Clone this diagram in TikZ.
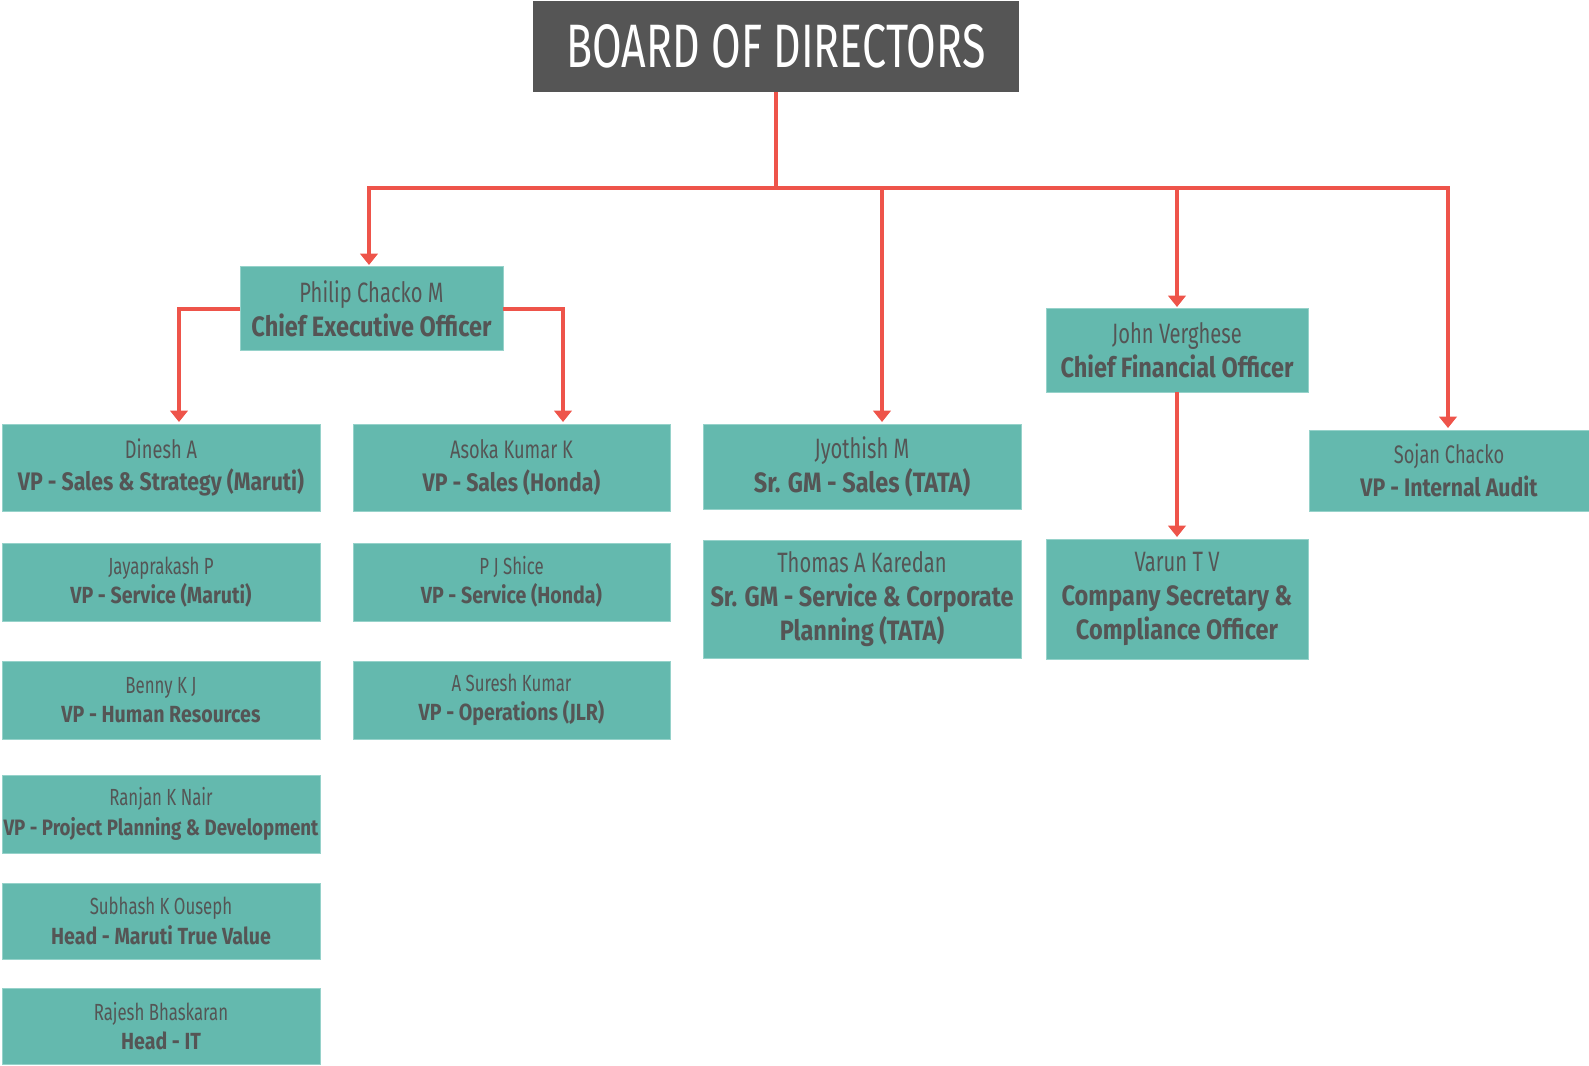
\documentclass[tikz,border=0pt]{standalone}
\usepackage{fontspec}
\setmainfont{Fira Sans}[FakeStretch=0.72]
\newfontfamily\titlefont{Fira Sans}[FakeStretch=0.84]
\newfontfamily\boardfont{Fira Sans}[FakeStretch=0.7]
\usetikzlibrary{arrows.meta}
\definecolor{teal}{RGB}{100,185,174}
\definecolor{tealedge}{RGB}{150,210,202}
\definecolor{ink}{RGB}{85,85,85}
\definecolor{boardgrey}{RGB}{85,85,85}
\definecolor{link}{RGB}{238,84,74}
% job titles are set bold and a little wider than the names
\newcommand\ttl[1]{{\titlefont\bfseries #1}}
% a box given by its corner pixels: name, x1, y1, x2, y2, style, text
\newcommand\orgbox[7]{%
  \node[#6, minimum width={(#4-#2)*0.75pt}, minimum height={(#5-#3)*0.75pt}]
    (#1) at ({(#2+#4)/2},{(#3+#5)/2}) {#7};}
\tikzset{
  unit/.style={fill=teal, draw=tealedge, line width=0.75pt, inner sep=0pt,
    outer sep=0pt, align=center, text=ink},
  bigunit/.style={unit, font=\fontsize{21}{25.5}\selectfont},
  midunit/.style={unit, font=\fontsize{19}{24.5}\selectfont},
  smallunit/.style={unit, font=\fontsize{17.5}{22}\selectfont},
  boardbox/.style={fill=boardgrey, inner sep=0pt, outer sep=0pt, text=white,
    font=\boardfont\fontsize{46}{50}\selectfont},
  link/.style={draw=link, line width=3pt},
  arrowlink/.style={link, -{Triangle[width=13pt,length=8.5pt]}, shorten >=1.5pt},
}
\begin{document}
\begin{tikzpicture}[x=0.75pt, y=-0.75pt]
\useasboundingbox (0,0) rectangle (1589,1066);

% top level
\orgbox{board}{533}{1}{1019}{92}{boardbox}{BOARD OF DIRECTORS}

% executives
\orgbox{ceo}{240}{267}{503}{351}{bigunit}{Philip Chacko M\\\ttl{Chief Executive Officer}}
\orgbox{cfo}{1046}{309}{1308}{392}{bigunit}{John Verghese\\\ttl{Chief Financial Officer}}

% first column
\orgbox{dinesh}{2}{424}{320}{511}{midunit}{Dinesh A\\\ttl{VP - Sales \& Strategy (Maruti)}}
\orgbox{jaya}{2}{543}{320}{621}{smallunit}{Jayaprakash P\\\ttl{VP - Service (Maruti)}}
\orgbox{benny}{2}{661}{320}{739}{smallunit}{Benny K J\\\ttl{VP - Human Resources}}
\orgbox{ranjan}{2}{775}{320}{853}{smallunit}{Ranjan K Nair\\\ttl{\fontsize{16.7}{22}\selectfont VP - Project Planning \& Development}}
\orgbox{subhash}{2}{883}{320}{959}{smallunit}{Subhash K Ouseph\\\ttl{Head - Maruti True Value}}
\orgbox{rajesh}{2}{988}{320}{1064}{smallunit}{Rajesh Bhaskaran\\\ttl{Head - IT}}

% second column
\orgbox{asoka}{353}{424}{670}{511}{midunit}{Asoka Kumar K\\\ttl{VP - Sales (Honda)}}
\orgbox{shice}{353}{543}{670}{621}{smallunit}{P J Shice\\\ttl{VP - Service (Honda)}}
\orgbox{suresh}{353}{661}{670}{739}{smallunit}{A Suresh Kumar\\\ttl{VP - Operations (JLR)}}

% third column
\orgbox{jyothish}{703}{424}{1021}{509}{bigunit}{Jyothish M\\\ttl{Sr. GM - Sales (TATA)}}
\orgbox{thomas}{703}{540}{1021}{658}{bigunit}{Thomas A Karedan\\\ttl{Sr. GM - Service \& Corporate}\\\ttl{Planning (TATA)}}

% finance and audit
\orgbox{varun}{1046}{539}{1308}{659}{bigunit}{Varun T V\\\ttl{Company Secretary \&}\\\ttl{Compliance Officer}}
\orgbox{sojan}{1309}{430}{1589}{511}{midunit}{Sojan Chacko\\\ttl{VP - Internal Audit}}

% bus under the board
\coordinate (busL) at (369,188);
\coordinate (busR) at (1448,188);
\coordinate (jx) at (882,188);
\coordinate (ceoL) at (179,311);
\coordinate (ceoR) at (563,311);

\draw[link] (board.south) -- (board.south |- busL);
\draw[link, line cap=rect] (busL) -- (busR);
\draw[arrowlink] (busL) -- (busL |- ceo.north);
\draw[arrowlink] (jx) -- (jx |- jyothish.north);
\draw[arrowlink] (cfo.north |- busL) -- (cfo.north);
\draw[arrowlink] (busR) -- (busR |- sojan.north);

% CEO reports
\draw[arrowlink] (ceo.west) -| (ceoL |- dinesh.north);
\draw[arrowlink] (ceo.east) -| (ceoR |- asoka.north);

% CFO report
\draw[arrowlink] (cfo.south) -- (varun.north);
\end{tikzpicture}
\end{document}
